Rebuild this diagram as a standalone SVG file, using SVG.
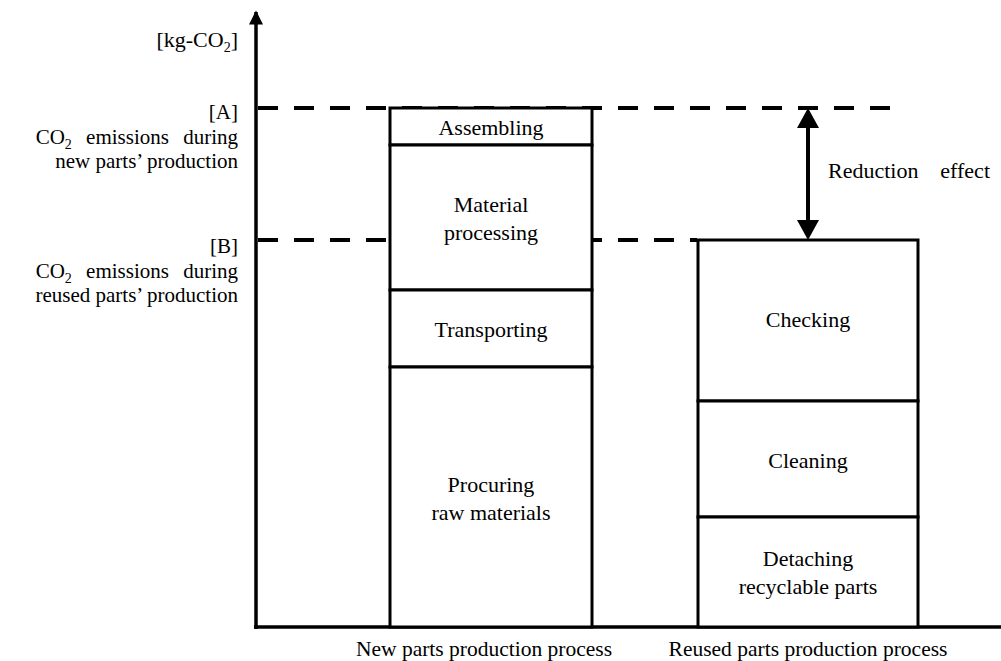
<svg xmlns="http://www.w3.org/2000/svg" width="1001" height="661" viewBox="0 0 1001 661">
<style>
text{font-family:"Liberation Serif","Times New Roman",serif;font-size:22px;fill:#000}
.c{text-anchor:middle}
.r{text-anchor:end}
.l{font-size:21px}
.w{word-spacing:9px}
.b{font-size:21.5px}
.box{fill:#fff;stroke:#000;stroke-width:3}
.dash{stroke:#000;stroke-width:4;stroke-dasharray:20 16;fill:none}
.ax{stroke:#000;stroke-width:3.5;fill:none}
</style>
<defs>
<marker id="ah" viewBox="0 0 10 10" refX="9" refY="5" markerWidth="5.5" markerHeight="4" markerUnits="strokeWidth" orient="auto-start-reverse">
<path d="M0,0 L10,5 L0,10 z" fill="#000"/>
</marker>
</defs>
<rect width="1001" height="661" fill="#fff"/>
<g id="connectors">
<line class="dash" x1="258" y1="108" x2="905" y2="108"/>
<line class="dash" x1="258" y1="240" x2="697" y2="240"/>
<line class="ax" x1="256" y1="629" x2="256" y2="12" marker-end="url(#ah)"/>
<line class="ax" x1="254" y1="627" x2="1001" y2="627"/>
<line x1="808" y1="128" x2="808" y2="220" stroke="#000" stroke-width="4"/>
<path d="M808,108 L797,128 L819,128 z M808,240 L797,220 L819,220 z" fill="#000"/>
</g>
<g id="axis-labels">
<text class="r" x="238" y="47" font-size="21.5">[kg-CO<tspan font-size="14" dy="5">2</tspan><tspan dy="-5">]</tspan></text>
<text class="r l" x="238" y="119">[A]</text>
<text class="r l w" x="238" y="144">CO<tspan font-size="14" dy="5">2</tspan><tspan dy="-5"> emissions during</tspan></text>
<text class="r l" x="238" y="168">new parts’ production</text>
<text class="r l" x="238" y="253">[B]</text>
<text class="r l w" x="238" y="278">CO<tspan font-size="14" dy="5">2</tspan><tspan dy="-5"> emissions during</tspan></text>
<text class="r l" x="238" y="302">reused parts’ production</text>
</g>
<g id="reduction-label"><text x="828" y="178">Reduction</text><text class="r" x="990" y="178">effect</text></g>
<g id="assembling"><rect class="box" x="390" y="108" width="202" height="37"/><text class="c" x="491" y="135">Assembling</text></g>
<g id="material-processing"><rect class="box" x="390" y="145" width="202" height="145"/><text class="c" x="491" y="212">Material</text><text class="c" x="491" y="240">processing</text></g>
<g id="transporting"><rect class="box" x="390" y="290" width="202" height="77"/><text class="c" x="491" y="337">Transporting</text></g>
<g id="procuring"><rect class="box" x="390" y="367" width="202" height="260"/><text class="c" x="491" y="492">Procuring</text><text class="c" x="491" y="520">raw materials</text></g>
<g id="checking"><rect class="box" x="698" y="240" width="220" height="161"/><text class="c" x="808" y="327">Checking</text></g>
<g id="cleaning"><rect class="box" x="698" y="401" width="220" height="116"/><text class="c" x="808" y="468">Cleaning</text></g>
<g id="detaching"><rect class="box" x="698" y="517" width="220" height="110"/><text class="c" x="808" y="566">Detaching</text><text class="c" x="808" y="594">recyclable parts</text></g>
<g id="x-labels">
<text class="c b" x="484" y="656">New parts production process</text>
<text class="c b" x="808" y="656">Reused parts production process</text>
</g>
</svg>
